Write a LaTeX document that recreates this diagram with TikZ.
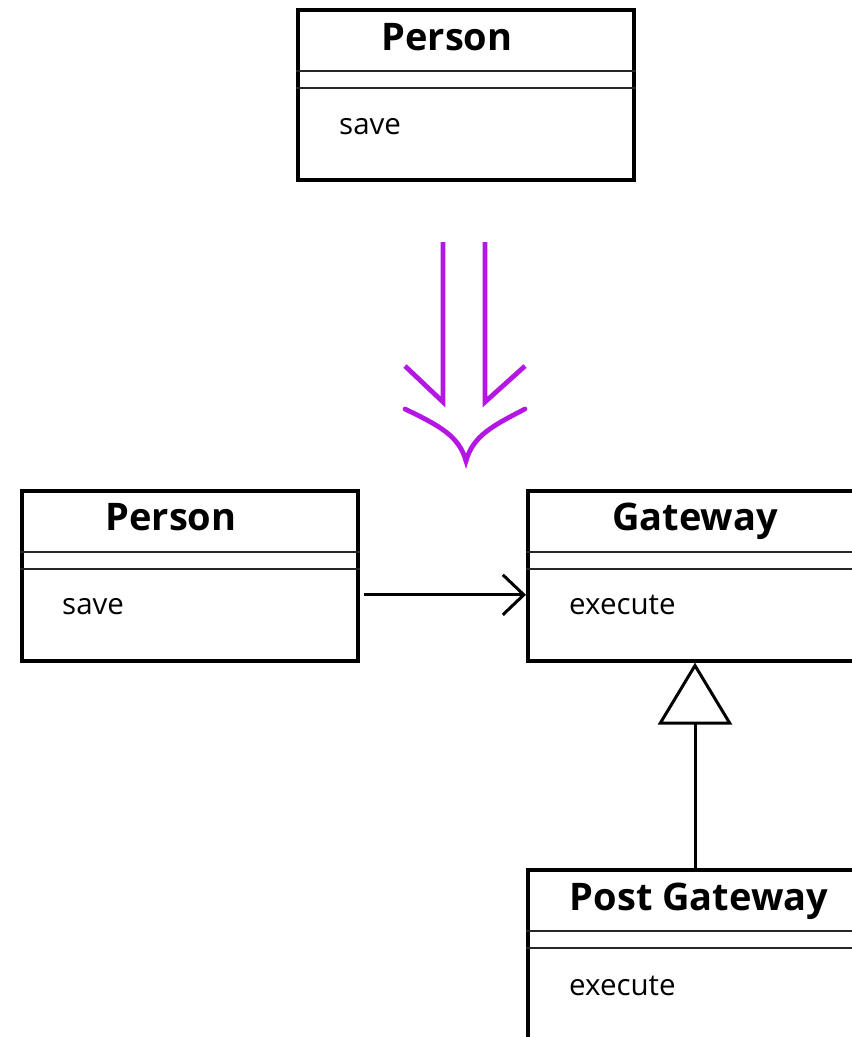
\documentclass[tikz,border=0pt]{standalone}
\usepackage{fontspec}
\setmainfont{Open Sans}
\usetikzlibrary{arrows.meta}
\definecolor{refine}{RGB}{180,22,228}
\tikzset{
  classbox/.style={draw=black, line width=3.6pt, minimum width=336pt, minimum height=170pt,
    anchor=north west, inner sep=0pt},
  sepline/.style={draw=black!85, line width=2pt},
  classname/.style={anchor=base, inner sep=0pt, font=\fontsize{38}{44}\selectfont\bfseries},
  member/.style={anchor=base west, inner sep=0pt, font=\fontsize{29.5}{34}\selectfont},
  assoc/.style={line width=3pt, -{Straight Barb[length=21pt, width=40pt, line width=3pt]}},
  inherit/.style={line width=3pt, -{Triangle[open, length=62pt, width=74pt, line width=3pt]}},
  refinearrow/.style={draw=refine, line width=4.8pt, line cap=round, line join=miter}
}
\begin{document}
\begin{tikzpicture}[x=1pt, y=-1pt]
  \useasboundingbox (0,0) rectangle (852,1037);
  \begin{scope}
  \clip (0,0) rectangle (852,1037);

  % original class
  \node[classbox] (orig) at (296,8) {};
  \draw[sepline] ([yshift=-63pt]orig.north west) -- ([yshift=-63pt]orig.north east);
  \draw[sepline] ([yshift=-80pt]orig.north west) -- ([yshift=-80pt]orig.north east);
  \node[classname] (origname) at (447,50) {Person};
  \node[member] (origsave) at (339,134) {save};

  % refactoring arrow
  \coordinate (rl) at (443,242);
  \coordinate (rr) at (485,242);
  \draw[refinearrow, line cap=butt] (rl) -- (443,402) -- (405,366);
  \draw[refinearrow, line cap=butt] (rr) -- (485,402) -- (525,366);
  \draw[refinearrow] (405,409) .. controls (440,426) and (459,436) .. (466,461)
                       .. controls (473,436) and (492,426) .. (525,409);

  % refactored classes
  \node[classbox] (person) at (20,489) {};
  \draw[sepline] ([yshift=-63pt]person.north west) -- ([yshift=-63pt]person.north east);
  \draw[sepline] ([yshift=-80pt]person.north west) -- ([yshift=-80pt]person.north east);
  \node[classname] (personname) at (171,530) {Person};
  \node[member] (personsave) at (62,614) {save};

  \node[classbox] (gw) at (526,489) {};
  \draw[sepline] ([yshift=-63pt]gw.north west) -- ([yshift=-63pt]gw.north east);
  \draw[sepline] ([yshift=-80pt]gw.north west) -- ([yshift=-80pt]gw.north east);
  \node[classname] (gwname) at (695,530) {Gateway};
  \node[member] (gwexec) at (569,614) {execute};

  \node[classbox] (post) at (526,868) {};
  \draw[sepline] ([yshift=-63pt]post.north west) -- ([yshift=-63pt]post.north east);
  \draw[sepline] ([yshift=-80pt]post.north west) -- ([yshift=-80pt]post.north east);
  \node[classname] (postname) at (699,910) {Post Gateway};
  \node[member] (postexec) at (569,995) {execute};

  % connectors
  \draw[assoc] ([xshift=4pt, yshift=-19pt]person.east) -- ([yshift=-19pt]gw.west);
  \draw[inherit] (post.north -| 695,0) -- (gw.south -| 695,0);
  \end{scope}
\end{tikzpicture}
\end{document}
